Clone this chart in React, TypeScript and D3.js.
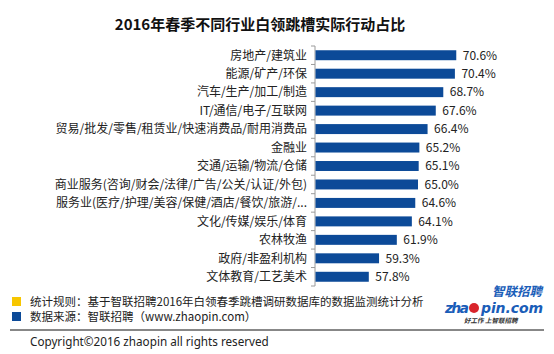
import React, { useEffect, useRef } from "react";
import * as d3 from "d3";

// categories, top to bottom
const categories = [
  "房地产/建筑业",
  "能源/矿产/环保",
  "汽车/生产/加工/制造",
  "IT/通信/电子/互联网",
  "贸易/批发/零售/租赁业/快速消费品/耐用消费品",
  "金融业",
  "交通/运输/物流/仓储",
  "商业服务(咨询/财会/法律/广告/公关/认证/外包)",
  "服务业(医疗/护理/美容/保健/酒店/餐饮/旅游/...",
  "文化/传媒/娱乐/体育",
  "农林牧渔",
  "政府/非盈利机构",
  "文体教育/工艺美术",
];
const values = [70.6, 70.4, 68.7, 67.6, 66.4, 65.2, 65.1, 65.0, 64.6, 64.1, 61.9, 59.3, 57.8];
const valueLabels = ["70.6%", "70.4%", "68.7%", "67.6%", "66.4%", "65.2%", "65.1%", "65.0%", "64.6%", "64.1%", "61.9%", "59.3%", "57.8%"];

const title = "2016年春季不同行业白领跳槽实际行动占比";
const notes = [
  { color: "#f7c600", text: "统计规则：基于智联招聘2016年白领春季跳槽调研数据库的数据监测统计分析" },
  { color: "#0c4a98", text: "数据来源：智联招聘（www.zhaopin.com）" },
];
const copyright = "Copyright©2016 zhaopin all rights reserved";

const FONT = "'Noto Sans CJK SC', 'Noto Sans', sans-serif";

const App = () => {
  const svgRef = useRef(null);

  useEffect(() => {
    const svg = d3.select(svgRef.current);
    const width = 554;
    const height = 354;
    svg.selectAll("*").remove();

    svg.append("rect").attr("width", width).attr("height", height).attr("fill", "#fff");

    svg.append("text")
      .attr("x", 260)
      .attr("y", 30)
      .attr("text-anchor", "middle")
      .attr("font-family", FONT)
      .attr("font-size", 15)
      .attr("font-weight", "bold")
      .attr("fill", "#111")
      .text(title);

    const x = d3.scaleLinear().domain([50, 80]).range([315, 520]);
    const y = d3.scaleBand().domain(categories).range([46, 286]).paddingInner(0.46).paddingOuter(0.23);

    // category boundary ticks
    const step = (y.range()[1] - y.range()[0]) / categories.length;
    const bounds = d3.range(categories.length + 1).map((i) => y.range()[0] + i * step);
    svg.append("g")
      .selectAll("line")
      .data(bounds)
      .enter()
      .append("line")
      .attr("x1", 311)
      .attr("x2", 315)
      .attr("y1", (d) => d)
      .attr("y2", (d) => d)
      .attr("stroke", "#9a9a9a");
    svg.append("line")
      .attr("x1", 315).attr("x2", 315).attr("y1", 46).attr("y2", 286)
      .attr("stroke", "#9a9a9a");

    svg.append("g")
      .selectAll("rect")
      .data(values)
      .enter()
      .append("rect")
      .attr("x", x(50) + 0.5)
      .attr("y", (d, i) => y(categories[i]))
      .attr("width", (d) => x(d) - x(50))
      .attr("height", y.bandwidth())
      .attr("fill", "#0c4a98");

    svg.append("g")
      .selectAll("text")
      .data(values)
      .enter()
      .append("text")
      .attr("x", (d) => x(d) + 7)
      .attr("y", (d, i) => y(categories[i]) + y.bandwidth() / 2)
      .attr("dy", "0.36em")
      .attr("font-family", FONT)
      .attr("font-size", 12)
      .attr("fill", "#222")
      .text((d, i) => valueLabels[i]);

    svg.append("g")
      .selectAll("text")
      .data(categories)
      .enter()
      .append("text")
      .attr("x", 307)
      .attr("y", (d) => y(d) + y.bandwidth() / 2)
      .attr("dy", "0.36em")
      .attr("text-anchor", "end")
      .attr("font-family", FONT)
      .attr("font-size", 12)
      .attr("fill", "#222")
      .text((d) => d);

    // footer notes
    const note = svg.append("g")
      .selectAll("g")
      .data(notes)
      .enter()
      .append("g")
      .attr("transform", (d, i) => `translate(0,${297 + i * 15})`);
    note.append("rect")
      .attr("x", 12).attr("y", 0).attr("width", 9).attr("height", 9)
      .attr("fill", (d) => d.color);
    note.append("text")
      .attr("x", 30)
      .attr("y", 9)
      .attr("font-family", FONT)
      .attr("font-size", 11.5)
      .attr("fill", "#222")
      .text((d) => d.text);

    svg.append("line")
      .attr("x1", 10).attr("x2", 544).attr("y1", 330).attr("y2", 330)
      .attr("stroke", "#111").attr("stroke-width", 1);

    svg.append("text")
      .attr("x", 30)
      .attr("y", 346)
      .attr("font-family", "'Noto Sans', sans-serif")
      .attr("font-size", 11.7)
      .attr("fill", "#222")
      .text(copyright);

    // logo
    const logo = svg.append("g");
    logo.append("text")
      .attr("x", 542).attr("y", 296)
      .attr("text-anchor", "end")
      .attr("font-family", FONT)
      .attr("font-size", 12.5)
      .attr("font-weight", "bold")
      .attr("font-style", "italic")
      .attr("fill", "#1a5db8")
      .text("智联招聘");
    logo.append("circle")
      .attr("cx", 474).attr("cy", 308).attr("r", 5)
      .attr("fill", "#d9242b");
    logo.append("text")
      .attr("x", 445).attr("y", 313)
      .attr("font-family", "'DejaVu Sans', sans-serif")
      .attr("font-size", 14)
      .attr("font-weight", "bold")
      .attr("font-style", "italic")
      .attr("fill", "#1a5db8")
      .attr("textLength", 24)
      .text("zha");
    logo.append("text")
      .attr("x", 481).attr("y", 313)
      .attr("font-family", "'DejaVu Sans', sans-serif")
      .attr("font-size", 14)
      .attr("font-weight", "bold")
      .attr("font-style", "italic")
      .attr("fill", "#1a5db8")
      .attr("textLength", 62)
      .text("pin.com");
    logo.append("text")
      .attr("x", 464).attr("y", 323)
      .attr("font-family", FONT)
      .attr("font-size", 6.5)
      .attr("font-weight", "bold")
      .attr("font-style", "italic")
      .attr("fill", "#333")
      .text("好工作  上智联招聘");
  }, []);

  return (
    <svg
      ref={svgRef}
      width={554}
      height={354}
      style={{ position: "absolute", left: 0, top: 0 }}
    ></svg>
  );
};

export default App;
